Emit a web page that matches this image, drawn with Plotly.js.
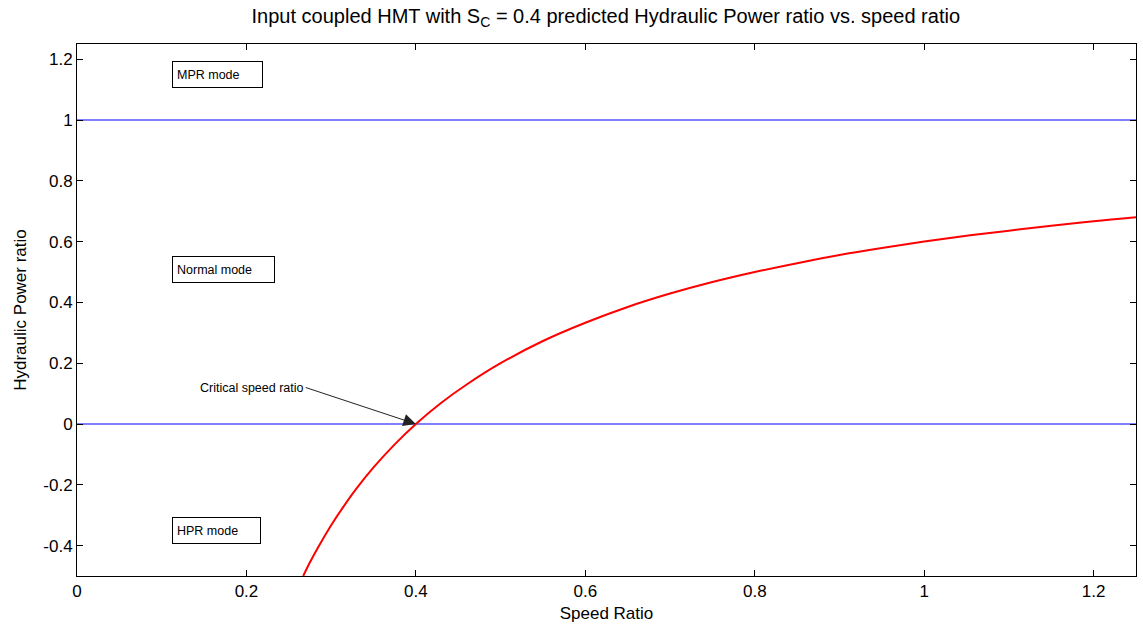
<!DOCTYPE html>
<html>
<head>
<meta charset="utf-8">
<script src="https://cdn.plot.ly/plotly-3.0.1.min.js"></script>
<style>html,body{margin:0;padding:0;background:#fff;}#chart{width:1143px;height:630px;}</style>
</head>
<body>
<div id="chart"></div>
<script>
// Speed ratio samples
var speedRatio = [0.267, 0.275, 0.285, 0.3, 0.315, 0.33, 0.35, 0.375, 0.4, 0.43, 0.46, 0.5, 0.55, 0.6, 0.65, 0.7, 0.75, 0.8, 0.85, 0.9, 0.95, 1.0, 1.05, 1.1, 1.15, 1.2, 1.25];
// Hydraulic power ratio
var powerRatio = [-0.5, -0.455, -0.404, -0.333, -0.27, -0.212, -0.143, -0.067, 0.0, 0.07, 0.13, 0.2, 0.273, 0.333, 0.385, 0.429, 0.467, 0.5, 0.529, 0.556, 0.579, 0.6, 0.619, 0.636, 0.652, 0.667, 0.68];
// Mode boundary lines
var boundaryLevels = [1, 0];
var xRange = [0, 1.25];
var yRange = [-0.5, 1.25];
var xTicks = [0, 0.2, 0.4, 0.6, 0.8, 1, 1.2];
var xTickText = ['0', '0.2', '0.4', '0.6', '0.8', '1', '1.2'];
var yTicks = [-0.4, -0.2, 0, 0.2, 0.4, 0.6, 0.8, 1, 1.2];
var yTickText = ['-0.4', '-0.2', '0', '0.2', '0.4', '0.6', '0.8', '1', '1.2'];
var modeLabels = ['MPR mode', 'Normal mode', 'HPR mode'];
var modeLabelY = [1.15, 0.508, -0.35];
var modeBoxWidth = [81, 93, 79];
var criticalLabel = 'Critical speed ratio';
var criticalPoint = [0.4, 0];
var criticalLabelPos = [0.27, 0.12];

var traces = [];
boundaryLevels.forEach(function (lv) {
  traces.push({x: xRange, y: [lv, lv], mode: 'lines', line: {color: '#0000ff', width: 1}, hoverinfo: 'skip', showlegend: false});
});
traces.push({x: speedRatio, y: powerRatio, mode: 'lines', line: {color: '#ff0000', width: 2, shape: 'spline'}, showlegend: false});

var font = 'Liberation Sans, Arial, sans-serif';
var annotations = modeLabels.map(function (t, i) {
  return {x: 0.1124, y: modeLabelY[i], xref: 'x', yref: 'y', text: t, showarrow: false,
    xanchor: 'left', yanchor: 'middle', align: 'left', width: modeBoxWidth[i], height: 17,
    bordercolor: '#000', borderwidth: 1, borderpad: 4,
    bgcolor: '#fff', font: {family: font, size: 12.5, color: '#000'}};
});
annotations.push({x: criticalPoint[0], y: criticalPoint[1], xref: 'x', yref: 'y', text: criticalLabel,
  showarrow: true, axref: 'x', ayref: 'y', ax: criticalLabelPos[0], ay: criticalLabelPos[1],
  xanchor: 'right', yanchor: 'middle', arrowhead: 2, arrowsize: 2.5,
  arrowwidth: 1, arrowcolor: '#222', font: {family: font, size: 12.5, color: '#000'}});

var axisCommon = {showline: true, linecolor: '#000', linewidth: 1, mirror: 'ticks', ticks: 'inside',
  ticklen: 6, tickcolor: '#000', showgrid: false, zeroline: false,
  tickfont: {family: font, size: 17, color: '#000'}};

var layout = {
  width: 1143, height: 630,
  margin: {l: 77, r: 7, t: 44, b: 54},
  paper_bgcolor: '#fff', plot_bgcolor: '#fff',
  title: {text: 'Input coupled HMT with S<sub>C</sub> = 0.4 predicted Hydraulic Power ratio vs. speed ratio',
    font: {family: font, size: 20, color: '#000'}, x: 0.53, xanchor: 'center', y: 0.975, yanchor: 'middle'},
  xaxis: Object.assign({}, axisCommon, {range: xRange, tickvals: xTicks, ticktext: xTickText,
    title: {text: 'Speed Ratio', font: {family: font, size: 17, color: '#000'}, standoff: 6}}),
  yaxis: Object.assign({}, axisCommon, {range: yRange, tickvals: yTicks, ticktext: yTickText,
    title: {text: 'Hydraulic Power ratio', font: {family: font, size: 17, color: '#000'}, standoff: 12}}),
  annotations: annotations
};
Plotly.newPlot('chart', traces, layout, {displayModeBar: false, staticPlot: true});
</script>
</body>
</html>
